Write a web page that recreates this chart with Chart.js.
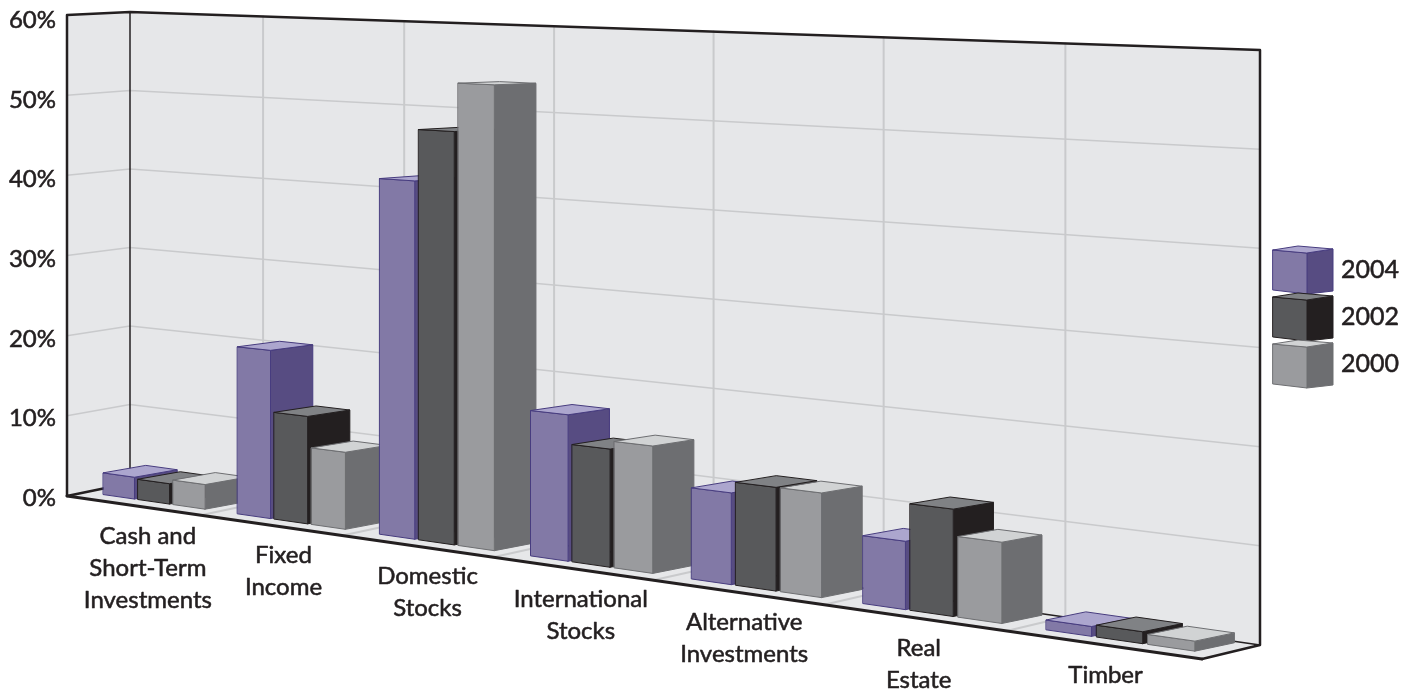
<!DOCTYPE html>
<html>
<head>
<meta charset="utf-8">
<title>Asset allocation</title>
<script src="https://cdn.jsdelivr.net/npm/chart.js@4"></script>
<style>
    html, body { margin: 0; background: #fff; }
    canvas { display: block; }
</style>
</head>
<body>
<canvas id="chartAlloc" width="1416" height="691"></canvas>
<script>
const categories = [
    ['Cash and', 'Short-Term', 'Investments'],
    ['Fixed', 'Income'],
    ['Domestic', 'Stocks'],
    ['International', 'Stocks'],
    ['Alternative', 'Investments'],
    ['Real', 'Estate'],
    ['Timber'],
];
const years = ['2004', '2002', '2000'];
const values2004 = [2.7, 20.2, 41.7, 16.5, 10.0, 7.2, 1.0];
const values2002 = [2.5, 12.8, 47.7, 13.2, 11.2, 11.2, 1.2];
const values2000 = [3.0, 9.1, 53.3, 14.1, 11.2, 8.4, 1.0];

const fontFamily = 'Lato';
const textStroke = 0.55;
const textColor = '#231f20';
const wallColor = '#e6e7e9';
const gridColor = '#c9cacc';
const edgeColor = '#231f20';

// front, top, side and outline of each series' boxes
const faces = [
    { front: '#8279a6', top: '#aca6ce', side: '#574c82', line: '#473c7f' },
    { front: '#58595b', top: '#808285', side: '#231f20', line: '#231f20' },
    { front: '#9a9b9e', top: '#d1d3d4', side: '#6d6e71', line: '#6d6e71' },
];

const lerp = (a, b, k) => a + (b - a) * k;

// Perspective of the box: u runs along the floor, d goes from front to back, f is the height fraction.
// dy lets the boxes sit a little flatter on the floor than the side walls run.
const foreshorten = 0.801;
function project(u, d, f, dy = d) {
    const t = foreshorten * u / (1 + (foreshorten - 1) * u);
    const x = lerp(lerp(67, 1202, t), lerp(130, 1260, t), d);
    const floor = lerp(lerp(496, 659, t), lerp(483, 645, t), dy);
    const height = lerp(lerp(481, 607, t), lerp(471, 595, t), d);
    return { x, y: floor - f * height };
}

function path(ctx, points) {
    ctx.beginPath();
    points.forEach((p, i) => (i ? ctx.lineTo(p.x, p.y) : ctx.moveTo(p.x, p.y)));
}

function poly(ctx, points, fill, line, width) {
    path(ctx, points);
    ctx.closePath();
    ctx.fillStyle = fill;
    ctx.fill();
    if (line) {
        ctx.strokeStyle = line;
        ctx.lineWidth = width || 1;
        ctx.lineJoin = 'round';
        ctx.stroke();
    }
}

function stroke(ctx, points, color, width) {
    path(ctx, points);
    ctx.strokeStyle = color;
    ctx.lineWidth = width;
    ctx.lineCap = 'round';
    ctx.lineJoin = 'round';
    ctx.stroke();
}

function label(ctx, text, x, y) {
    ctx.fillStyle = textColor;
    ctx.strokeStyle = textColor;
    ctx.lineWidth = textStroke;
    ctx.strokeText(text, x, y);
    ctx.fillText(text, x, y);
}

function drawWalls(ctx, chart) {
    const count = categories.length;
    const yScale = chart.scales.y;

    poly(ctx, [project(0, 0, 0), project(0, 1, 0), project(1, 1, 0), project(1, 0, 0)], wallColor);
    poly(ctx, [project(0, 0, 0), project(0, 0, 1), project(0, 1, 1), project(0, 1, 0)], wallColor);
    poly(ctx, [project(0, 1, 0), project(0, 1, 1), project(1, 1, 1), project(1, 1, 0)], wallColor);

    yScale.ticks.forEach((tick) => {
        const f = tick.value / yScale.max;
        if (f === 0 || f === 1) return;
        stroke(ctx, [project(0, 0, f), project(0, 1, f), project(1, 1, f)], gridColor, 1.5);
    });
    for (let i = 1; i < count; i++) {
        const u = i / count;
        stroke(ctx, [project(u, 0, 0), project(u, 1, 0), project(u, 1, 1)], gridColor, 2);
    }

    stroke(ctx, [project(0, 1, 0), project(0, 1, 1)], edgeColor, 1.5);
    stroke(ctx, [project(0, 1, 0), project(1, 1, 0)], edgeColor, 1.5);
    stroke(ctx, [project(0, 1, 0), project(0, 0, 0), project(0, 0, 1), project(0, 1, 1), project(1, 1, 1), project(1, 1, 0), project(1, 0, 0)], edgeColor, 2.5);
    stroke(ctx, [project(0, 0, 0), project(1, 0, 0)], edgeColor, 3);
}

function drawBox(ctx, u0, u1, f, style) {
    const d0 = 0.23;
    const d1 = 0.91;
    const y0 = 0.35;
    const y1 = 0.95;
    const a = project(u0, d0, 0, y0);
    const b = project(u1, d0, 0, y0);
    const c = project(u1, d1, 0, y1);
    const at = project(u0, d0, f, y0);
    const bt = project(u1, d0, f, y0);
    const ct = project(u1, d1, f, y1);
    const dt = project(u0, d1, f, y1);
    poly(ctx, [b, c, ct, bt], style.side, style.line);
    poly(ctx, [a, b, bt, at], style.front, style.line);
    poly(ctx, [at, bt, ct, dt], style.top, style.line);
}

function drawBars(ctx, chart) {
    const area = chart.chartArea;
    // groups start a bit right of their slot, less so towards the far end
    const nudge = (u) => u + 0.0072 - 0.0049 * u;
    categories.forEach((_, index) => {
        chart.data.datasets.forEach((dataset, di) => {
            const bar = chart.getDatasetMeta(di).data[index];
            const u0 = nudge((bar.x - bar.width / 2 - area.left) / area.width);
            const u1 = nudge((bar.x + bar.width / 2 - area.left) / area.width);
            const f = (area.bottom - bar.y) / area.height;
            drawBox(ctx, u0, u1, f, faces[di]);
        });
    });
}

function drawCategoryLabels(ctx, chart) {
    const area = chart.chartArea;
    const xScale = chart.scales.x;
    ctx.font = '24px ' + fontFamily;
    ctx.textAlign = 'center';
    ctx.textBaseline = 'middle';
    categories.forEach((lines, index) => {
        const u = (xScale.getPixelForValue(index) - area.left) / area.width;
        const p = project(u, 0, 0);
        lines.forEach((line, li) => {
            label(ctx, line, p.x + 16 - 14 * u, p.y + 30.5 + li * 32);
        });
    });
}

function drawLegend(ctx) {
    years.forEach((year, i) => {
        const top = 250 + i * 47;
        const s = faces[i];
        poly(ctx, [{ x: 1307, y: top + 3 }, { x: 1333, y: top - 1 }, { x: 1333, y: top + 41 }, { x: 1307, y: top + 44 }], s.side, s.line);
        poly(ctx, [{ x: 1273, y: top }, { x: 1307, y: top + 3 }, { x: 1307, y: top + 44 }, { x: 1273, y: top + 40 }], s.front, s.line);
        poly(ctx, [{ x: 1273, y: top }, { x: 1298, y: top - 4 }, { x: 1333, y: top - 1 }, { x: 1307, y: top + 3 }], s.top, s.line);
        ctx.font = '25px ' + fontFamily;
        ctx.textAlign = 'left';
        ctx.textBaseline = 'middle';
        label(ctx, year, 1341, top + 20);
    });
}

const boxPlugin = {
    id: 'box3d',
    beforeDatasetsDraw(chart) {
        const ctx = chart.ctx;
        ctx.save();
        drawWalls(ctx, chart);
        drawBars(ctx, chart);
        drawCategoryLabels(ctx, chart);
        drawLegend(ctx);
        ctx.restore();
        return false;
    },
};

new Chart(document.getElementById('chartAlloc'), {
    type: 'bar',
    data: {
        labels: categories,
        datasets: [
            { label: years[0], data: values2004 },
            { label: years[1], data: values2002 },
            { label: years[2], data: values2000 },
        ],
    },
    plugins: [boxPlugin],
    options: {
        responsive: false,
        animation: false,
        events: [],
        categoryPercentage: 0.79,
        barPercentage: 0.9,
        layout: { padding: { top: 15, bottom: 195, right: 214, left: 0 } },
        plugins: { legend: { display: false }, tooltip: { enabled: false } },
        scales: {
            x: { display: false },
            y: {
                min: 0,
                max: 60,
                afterFit(scale) { scale.width = 60; },
                grid: { display: false, drawTicks: false },
                border: { display: false },
                ticks: {
                    stepSize: 10,
                    padding: 4,
                    labelOffset: 2,
                    color: textColor,
                    textStrokeColor: textColor,
                    textStrokeWidth: textStroke,
                    font: { family: fontFamily, size: 24 },
                    callback: (v) => v + '%',
                },
            },
        },
    },
});
</script>
</body>
</html>
